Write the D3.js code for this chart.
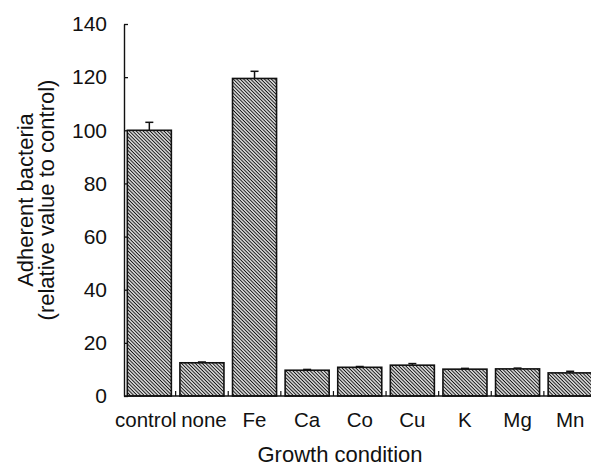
<!DOCTYPE html>
<html>
<head>
<meta charset="utf-8">
<script src="https://cdn.jsdelivr.net/npm/d3@7"></script>
<style>
  html, body { margin: 0; padding: 0; background: #fff; }
  svg { display: block; }
  text { font-family: "Liberation Sans", Arial, Helvetica, sans-serif; fill: #111; }
</style>
</head>
<body>
<svg id="chart" width="591" height="465"></svg>
<script>
const categories = ["control", "none", "Fe", "Ca", "Co", "Cu", "K", "Mg", "Mn"];
const values = [100, 12.5, 119.5, 9.7, 10.8, 11.6, 10.1, 10.2, 8.7];
const errors = [3, 0.3, 2.7, 0.3, 0.3, 0.6, 0.3, 0.3, 0.6];
const yTicks = [0, 20, 40, 60, 80, 100, 120, 140];
const xTitle = "Growth condition";
const yTitle = ["Adherent bacteria", "(relative value to control)"];

const svg = d3.select("#chart");
const x0 = 124, x1 = 595.5, yTop = 24, yBot = 396;

const x = d3.scaleBand().domain(categories).range([x0, x1])
  .paddingInner(0.163).paddingOuter(0.063);
const y = d3.scaleLinear().domain([0, 140]).range([yBot, yTop]);

const defs = svg.append("defs");
const pat = defs.append("pattern")
  .attr("id", "hatch").attr("patternUnits", "userSpaceOnUse")
  .attr("width", 2.45).attr("height", 10)
  .attr("patternTransform", "rotate(-45)");
pat.append("rect").attr("width", 2.45).attr("height", 10).attr("fill", "#fff");
pat.append("line").attr("x1", 1.2).attr("x2", 1.2).attr("y1", 0).attr("y2", 10)
  .attr("stroke", "#111").attr("stroke-width", 1.15);

const data = categories.map((c, i) => ({ c, v: values[i], e: errors[i] }));

// error bars (upward only)
const eg = svg.append("g").attr("stroke", "#111").attr("stroke-width", 1.5);
data.forEach(d => {
  const cx = x(d.c) + x.bandwidth() / 2;
  eg.append("line").attr("x1", cx).attr("x2", cx).attr("y1", y(d.v)).attr("y2", y(d.v + d.e));
  eg.append("line").attr("x1", cx - 4).attr("x2", cx + 4).attr("y1", y(d.v + d.e)).attr("y2", y(d.v + d.e));
});

// bars
svg.append("g").selectAll("rect").data(data).join("rect")
  .attr("x", d => x(d.c))
  .attr("y", d => y(d.v))
  .attr("width", x.bandwidth())
  .attr("height", d => y(0) - y(d.v))
  .attr("fill", "url(#hatch)")
  .attr("stroke", "#111")
  .attr("stroke-width", 1.6);

// y axis
const yAxis = d3.axisLeft(y).tickValues(yTicks).tickSizeInner(-4).tickSizeOuter(0).tickPadding(17);
const yg = svg.append("g").attr("transform", `translate(${x0},0)`).call(yAxis);
yg.select(".domain").attr("stroke", "#111").attr("stroke-width", 1.4);
yg.selectAll(".tick line").attr("stroke", "#111").attr("stroke-width", 1.3);
yg.selectAll(".tick text").attr("font-size", 21).attr("font-family", "Liberation Sans, Arial, sans-serif").attr("fill", "#111");

// x axis
const xAxis = d3.axisBottom(x).tickSize(0).tickPadding(16);
const xg = svg.append("g").attr("transform", `translate(0,${yBot})`).call(xAxis);
xg.select(".domain").attr("stroke", "#111").attr("stroke-width", 1.6).attr("d", `M${x0},0H600`);
xg.selectAll(".tick text").attr("font-size", 20.5).attr("font-family", "Liberation Sans, Arial, sans-serif").attr("fill", "#111")
  .attr("dx", d => d === "control" ? -3.5 : (d === "none" ? 2 : 0));

// small upward ticks between bars
const gaps = categories.slice(1).map(c => x(c) - x.step() * x.paddingInner() / 2);
svg.append("g").selectAll("line").data(gaps).join("line")
  .attr("x1", d => d).attr("x2", d => d)
  .attr("y1", yBot).attr("y2", yBot - 5)
  .attr("stroke", "#111").attr("stroke-width", 1.2);

// titles
svg.append("text").attr("x", 340).attr("y", 461.5).attr("text-anchor", "middle")
  .attr("font-size", 22).text(xTitle);
svg.append("text").attr("transform", "translate(33,200) rotate(-90)")
  .attr("text-anchor", "middle").attr("font-size", 22).text(yTitle[0]);
svg.append("text").attr("transform", "translate(54,200) rotate(-90)")
  .attr("text-anchor", "middle").attr("font-size", 22).text(yTitle[1]);
</script>
</body>
</html>
